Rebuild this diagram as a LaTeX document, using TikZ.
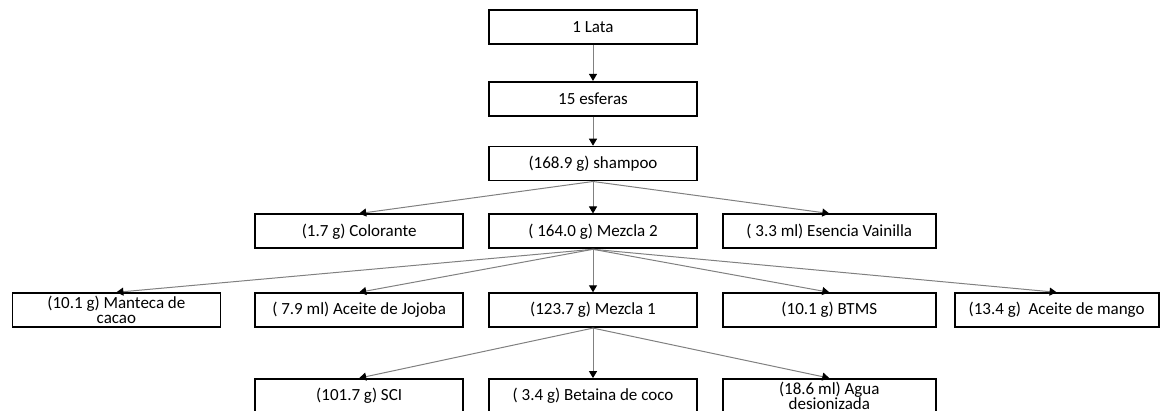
\documentclass[tikz,border=0pt]{standalone}
\usepackage{fontspec}
\setmainfont{Carlito}
\usetikzlibrary{positioning}
\usetikzlibrary{arrows.meta}
\tikzset{box/.style={draw=black, line width=1.8pt, fill=white, minimum width=208pt, minimum height=34pt,
                     inner sep=0pt, align=center, font=\fontsize{17}{17}\selectfont},
         twoline/.style={box, font=\fontsize{17}{15}\selectfont},
         link/.style={draw=gray, line width=1pt, -{Triangle[black,length=7pt,width=8pt]}},
         node distance=24pt,
         }

\begin{document}
\begin{tikzpicture}[x=1pt, y=1pt]
\useasboundingbox (0,0) rectangle (1163,-411);
\clip (0,0) rectangle (1163,-411);
\node[box] (lata) at (593,-27) {1 Lata};
\node[box, below=36pt of lata] (esferas) {15 esferas};
\node[box, below=29pt of esferas] (shampoo) {(168.9 g) shampoo};
\node[box, below=32pt of shampoo] (mezcla2) {( 164.0 g) Mezcla 2};
\node[box, left=of mezcla2] (colorante) {(1.7 g) Colorante};
\node[box, right=of mezcla2, minimum width=213pt] (esencia) {( 3.3 ml) Esencia Vainilla};
\node[box, below=43pt of mezcla2] (mezcla1) {(123.7 g) Mezcla 1};
\node[box, left=of mezcla1] (jojoba) {( 7.9 ml) Aceite de Jojoba};
\node[twoline, left=33pt of jojoba] (manteca) {(10.1 g) Manteca de\\cacao};
\node[box, right=of mezcla1, minimum width=213pt] (btms) {(10.1 g) BTMS};
\node[box, right=17pt of btms, minimum width=204pt] (mango) {(13.4 g)\ \ Aceite de mango};
\node[box, below=50pt of mezcla1] (betaina) {( 3.4 g) Betaina de coco};
\node[box, left=of betaina] (sci) {(101.7 g) SCI};
\node[twoline, right=of betaina, minimum width=213pt] (agua) {(18.6 ml) Agua\\desionizada};
\draw[link] (lata) -- (esferas);
\draw[link] (esferas) -- (shampoo);
\foreach \n in {colorante, mezcla2, esencia}
  \draw[link] (shampoo.south) -- (\n.north);
\foreach \n in {manteca, jojoba, mezcla1, btms, mango}
  \draw[link] (mezcla2.south) -- (\n.north);
\foreach \n in {sci, betaina, agua}
  \draw[link] (mezcla1.south) -- (\n.north);
\end{tikzpicture}
\end{document}
